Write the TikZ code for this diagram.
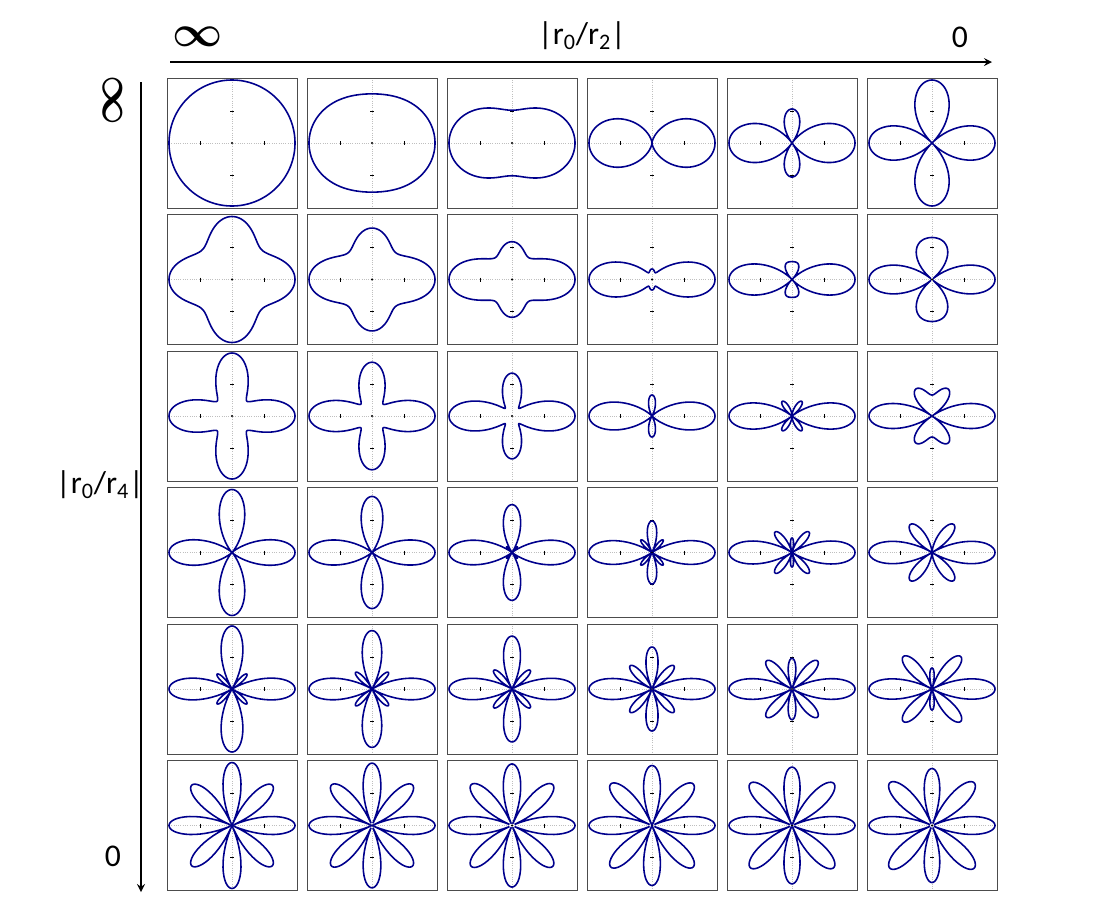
\documentclass[tikz,border=0pt]{standalone}
\usepackage{fontspec}
\setmainfont{Carlito}
\begin{document}
\begin{tikzpicture}[x=0.02cm,y=-0.02cm,
 cell/.style={draw=black!70,line width=0.5pt},
 guide/.style={densely dotted,draw=black!25,line width=0.3pt},
 tick/.style={draw=black,line width=0.5pt},
 lobe/.style={draw=blue!55!black,line width=0.9pt},
 lab/.style={font=\fontsize{18}{21}\selectfont},
 inf/.style={font=\fontsize{24}{26}\selectfont\boldmath}]
\useasboundingbox (0,0) rectangle (1100,920);
% axes
\coordinate (top-start) at (170,62);
\coordinate (top-end) at (992,62);
\coordinate (left-start) at (141,82);
\coordinate (left-end) at (141,892);
\draw[-stealth,line width=1pt] (top-start)--(top-end);
\draw[-stealth,line width=1pt] (left-start)--(left-end);
\node[inf] (r2-inf) at (198,37) {$\infty$};
\node[lab] (r2-name) at (582,36) {|r\textsubscript{0}/r\textsubscript{2}|};
\node[lab] (r2-zero) at (960,37) {0};
\node[inf,rotate=90] (r4-inf) at (113,100) {$\infty$};
\node[lab] (r4-name) at (100,485) {|r\textsubscript{0}/r\textsubscript{4}|};
\node[lab] (r4-zero) at (113,856) {0};
% polar cells
\foreach \a/\b [count=\i from 0] in {1/0,.89/.11,.76/.24,.5/.5,.23/.77,0/1}{
 \foreach \c [count=\j from 0] in {0,.2,.5,1,2,20}{
  \begin{scope}[shift={(232+140*\i,143+136.5*\j)}]
   \draw[cell] (-65,-65) rectangle (65,65);
   \draw[guide] (-63,0)--(63,0) (0,-63)--(0,63);
   \draw[tick] (-32,-2)--(-32,2) (32,-2)--(32,2) (-2,-32)--(2,-32) (-2,32)--(2,32);
   \fill (0,0) circle (1.2);
   \draw[lobe] plot[domain=0:360,samples=241,variable=\t]
    ({63*abs(\a+\b*cos(2*\t)+\c*cos(4*\t))/(\a+\b+\c)*cos(\t)},
     {63*abs(\a+\b*cos(2*\t)+\c*cos(4*\t))/(\a+\b+\c)*sin(\t)});
  \end{scope}}}
\end{tikzpicture}
\end{document}
